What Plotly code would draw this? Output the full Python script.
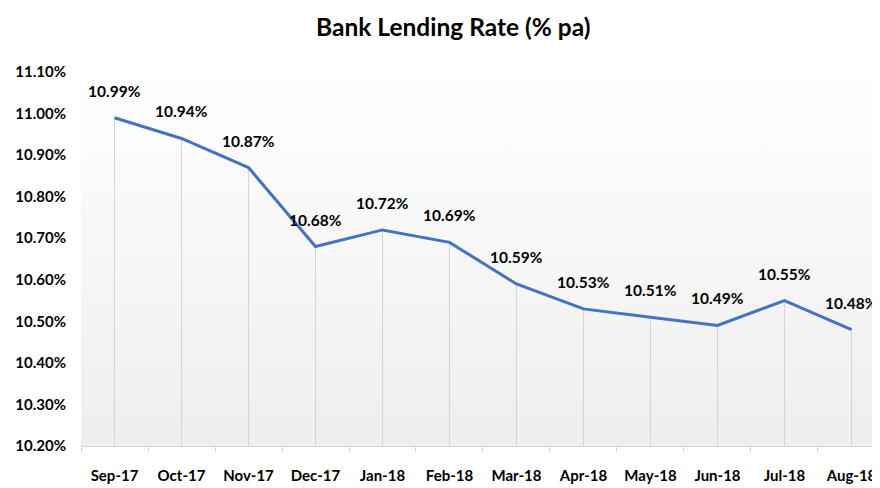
import plotly.graph_objects as go

# data
months = ['Sep-17', 'Oct-17', 'Nov-17', 'Dec-17', 'Jan-18', 'Feb-18',
          'Mar-18', 'Apr-18', 'May-18', 'Jun-18', 'Jul-18', 'Aug-18']
rates = [10.99, 10.94, 10.87, 10.68, 10.72, 10.69, 10.59, 10.53, 10.51, 10.49, 10.55, 10.48]
y_ticks = [10.2, 10.3, 10.4, 10.5, 10.6, 10.7, 10.8, 10.9, 11.0, 11.1]

FONT = "Lato, sans-serif"
y_min, y_max = 10.2, 11.1
x_pos = list(range(len(months)))
x_lo, x_hi = -0.5, 11.545

fig = go.Figure()

# gradient background in plot area
fig.add_trace(go.Scatter(
    x=[x_lo, x_hi, x_hi, x_lo, x_lo], y=[y_min, y_min, y_max, y_max, y_min],
    mode='lines', line=dict(width=0), fill='toself',
    fillgradient=dict(type='vertical', colorscale=[[0, '#eeeeee'], [1, '#ffffff']]),
    hoverinfo='skip', showlegend=False))

# drop lines
drop_x, drop_y = [], []
for i, r in zip(x_pos, rates):
    drop_x += [i, i, None]
    drop_y += [y_min, r, None]
fig.add_trace(go.Scatter(x=drop_x, y=drop_y, mode='lines',
                         line=dict(color='#d4d4d4', width=1),
                         hoverinfo='skip', showlegend=False))

# main line
fig.add_trace(go.Scatter(x=x_pos, y=rates, mode='lines',
                         line=dict(color='#4472C4', width=3),
                         showlegend=False))

# data labels
for i, r in zip(x_pos, rates):
    fig.add_annotation(x=i, y=r, text=f"<b>{r:.2f}%</b>", showarrow=False,
                       yshift=27, font=dict(family=FONT, size=15.5, color='#000'))

# page body adds an 8px offset, so margins are shifted to compensate
fig.update_layout(
    width=880, height=488,
    margin=dict(l=73, r=0, t=64, b=50, autoexpand=False),
    paper_bgcolor='white', plot_bgcolor='white',
    title=dict(text="<b>Bank Lending Rate (% pa)</b>", x=0.506, xanchor='center',
               yref='container', y=0.961, yanchor='middle',
               font=dict(family=FONT, size=24.5, color='#000')),
)

fig.update_xaxes(
    range=[x_lo, x_hi], tickmode='array', tickvals=x_pos,
    ticktext=[f"<b>{m}</b>" for m in months],
    tickfont=dict(family=FONT, size=15, color='#000'),
    ticks='', ticklabelstandoff=16, automargin=False,
    showgrid=False, zeroline=False,
    showline=True, linecolor='#d4d4d4', linewidth=1,
    minor=dict(tick0=0.5, dtick=1, ticks='outside', ticklen=5, tickcolor='#d4d4d4', showgrid=False),
)
fig.update_yaxes(
    range=[y_min, y_max], tickmode='array', tickvals=y_ticks,
    ticktext=[f"<b>{v:.2f}%</b>" for v in y_ticks],
    tickfont=dict(family=FONT, size=15, color='#000'),
    ticks='', ticklabelstandoff=14, automargin=False,
    showgrid=False, zeroline=False, showline=False,
)

fig.write_html("out.html")
